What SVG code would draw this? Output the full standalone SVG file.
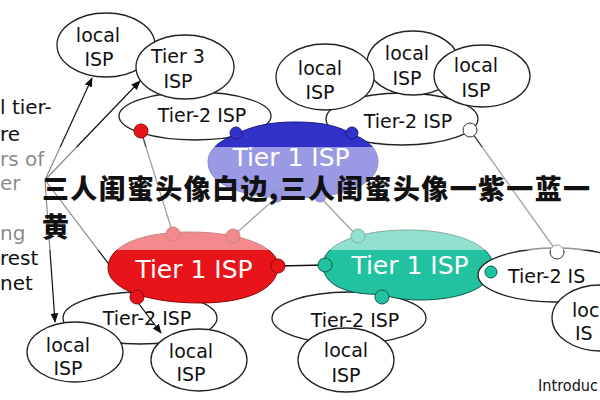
<svg xmlns="http://www.w3.org/2000/svg" width="600" height="400" viewBox="0 0 600 400">
<style>
.ell{fill:#fff;stroke:#222;stroke-width:1.3}
.t{font-family:"DejaVu Sans","Liberation Sans",sans-serif;font-size:19px;fill:#111;text-anchor:middle}
.s{font-family:"DejaVu Sans","Liberation Sans",sans-serif;font-size:20px;fill:#111}
.big{font-family:"DejaVu Sans","Liberation Sans",sans-serif;font-size:25px;fill:#fff;text-anchor:middle}
.ln{stroke:#444;stroke-width:1.3;fill:none}
.ar{stroke:#111;stroke-width:1.2;fill:none;marker-end:url(#ah)}
.rd{fill:#e8141a;stroke:#8a0a0a;stroke-width:1}
.bd{fill:#3333cc;stroke:#1a1a80;stroke-width:1}
.gd{fill:#22c1a0;stroke:#0b5a48;stroke-width:1}
.wd{fill:#fff;stroke:#333;stroke-width:1}
.cjk{font-family:"Noto Sans CJK SC","DejaVu Sans",sans-serif;font-size:27px;font-weight:900;fill:#111}
</style>
<defs>
<marker id="ah" viewBox="0 0 10 10" refX="9" refY="5" markerWidth="8" markerHeight="8" orient="auto">
<path d="M0,1 L10,5 L0,9 Z" fill="#111"/>
</marker>
</defs>
<rect width="600" height="400" fill="#fff"/>

<g id="side-text">
<text class="s" x="0" y="114">l tier-</text>
<text class="s" x="0" y="141">re</text>
<text class="s" x="0" y="166">rs of</text>
<text class="s" x="0" y="190">er</text>
<text class="s" x="0" y="240">ng</text>
<text class="s" x="0" y="265">rest</text>
<text class="s" x="0" y="290">net</text>
</g>

<g id="tier2-tl"><ellipse class="ell" cx="195" cy="116" rx="76" ry="24"/><text class="t" x="202" y="122">Tier-2 ISP</text></g>
<g id="local-tl"><ellipse class="ell" cx="106" cy="45" rx="49" ry="32"/><text class="t" x="98" y="42">local</text><text class="t" x="99" y="66">ISP</text></g>
<g id="tier3"><ellipse class="ell" cx="185" cy="67" rx="49" ry="32"/><text class="t" x="178" y="63">Tier 3</text><text class="t" x="178" y="88">ISP</text></g>

<g id="tier2-tr"><ellipse class="ell" cx="402" cy="119" rx="76" ry="26"/><text class="t" x="408" y="128">Tier-2 ISP</text></g>
<g id="local-tm"><ellipse class="ell" cx="413" cy="63" rx="46" ry="32"/><text class="t" x="407" y="60">local</text><text class="t" x="407" y="85">ISP</text></g>
<g id="local-tr1"><ellipse class="ell" cx="325" cy="77" rx="49" ry="33"/><text class="t" x="320" y="75">local</text><text class="t" x="320" y="99">ISP</text></g>
<g id="local-tr2"><ellipse class="ell" cx="482" cy="76" rx="48" ry="31"/><text class="t" x="476" y="72">local</text><text class="t" x="476" y="97">ISP</text></g>

<g id="tier2-bl"><ellipse class="ell" cx="140" cy="318" rx="77" ry="26"/><text class="t" x="147" y="325">Tier-2 ISP</text></g>
<g id="tier2-bm"><ellipse class="ell" cx="349" cy="318" rx="77" ry="26"/><text class="t" x="355" y="327">Tier-2 ISP</text></g>

<g id="connectors">
<line class="ln" x1="141" y1="131" x2="173" y2="234"/>
<line class="ln" x1="277" y1="197" x2="233" y2="236"/>
<line class="ln" x1="320" y1="197" x2="358" y2="237"/>
<line class="ln" x1="470" y1="130" x2="557" y2="252"/>
<line class="ln" x1="278" y1="266" x2="325" y2="265" style="stroke:#111;stroke-width:1.6"/>
<line class="ar" x1="45" y1="180" x2="92" y2="78"/>
<line class="ar" x1="45" y1="180" x2="140" y2="81"/>
<line class="ar" x1="45" y1="180" x2="55" y2="322"/>
<line class="ar" x1="45" y1="180" x2="161" y2="333"/>
</g>

<g id="tier1-blue">
<path d="M208,162 C208,148 222,140 236,134 C255,125 272,122 295,122 C325,122 340,127 352,134 C370,141 378,150 378,162 C378,186 340,198 293,198 C245,198 208,186 208,162 Z" fill="#3232c8" stroke="#1a1a80" stroke-width="1"/>
<text class="big" x="291" y="166">Tier 1 ISP</text>
</g>
<g id="tier1-red">
<path d="M108,268 C108,246 140,232 190,232 C240,232 278,246 278,266 C278,290 245,303 200,303 C150,303 108,290 108,268 Z" fill="#e8141a" stroke="#8a0a0a" stroke-width="1"/>
<text class="big" x="194" y="278">Tier 1 ISP</text>
</g>
<g id="tier1-green">
<path d="M323,265 C323,244 358,230 408,230 C458,230 493,246 493,266 C493,288 460,300 420,300 C395,300 385,294 368,294 C340,292 323,282 323,265 Z" fill="#22c1a0" stroke="#0b5a48" stroke-width="1"/>
<text class="big" x="410" y="274">Tier 1 ISP</text>
</g>

<g id="tier2-r"><ellipse class="ell" cx="556" cy="275" rx="78" ry="27"/><text class="s" x="508" y="283" style="font-size:19px">Tier-2 IS</text></g>
<g id="local-r"><ellipse class="ell" cx="600" cy="318" rx="48" ry="33"/><text class="s" x="572" y="317" style="font-size:19px">loc</text><text class="s" x="575" y="340" style="font-size:19px">IS</text></g>
<g id="local-bl"><ellipse class="ell" cx="75" cy="352" rx="48" ry="30"/><text class="t" x="68" y="352">local</text><text class="t" x="68" y="375">ISP</text></g>
<g id="local-bm"><ellipse class="ell" cx="199" cy="360" rx="48" ry="31"/><text class="t" x="191" y="358">local</text><text class="t" x="191" y="381">ISP</text></g>
<g id="local-bm2"><ellipse class="ell" cx="346" cy="360" rx="48" ry="32"/><text class="t" x="346" y="357">local</text><text class="t" x="346" y="382">ISP</text></g>

<g id="dots">
<circle class="rd" cx="141" cy="131" r="7"/>
<circle class="bd" cx="236" cy="133" r="6"/>
<circle class="bd" cx="352" cy="133" r="6"/>
<circle class="wd" cx="470" cy="130" r="7"/>
<circle class="bd" cx="277" cy="196" r="6"/>
<circle class="bd" cx="320" cy="196" r="6"/>
<circle class="rd" cx="173" cy="234" r="7"/>
<circle class="rd" cx="233" cy="236" r="7"/>
<circle class="gd" cx="358" cy="236" r="7"/>
<circle class="rd" cx="278" cy="266" r="7"/>
<circle class="gd" cx="325" cy="265" r="7"/>
<circle class="gd" cx="491" cy="272" r="6"/>
<circle class="wd" cx="557" cy="252" r="7"/>
<circle class="rd" cx="137" cy="297" r="7"/>
<circle class="gd" cx="382" cy="297" r="7"/>
</g>

<text class="s" x="538" y="391" style="font-size:15px" textLength="60" lengthAdjust="spacingAndGlyphs">Introduc</text>

<rect id="fade" x="0" y="147" width="600" height="103" fill="#fff" opacity="0.5"/>

<g id="caption">
<text class="cjk" x="42" y="199" textLength="548" lengthAdjust="spacing">三人闺蜜头像白边,三人闺蜜头像一紫一蓝一</text>
<text class="cjk" x="42" y="237">黄</text>
</g>
</svg>
